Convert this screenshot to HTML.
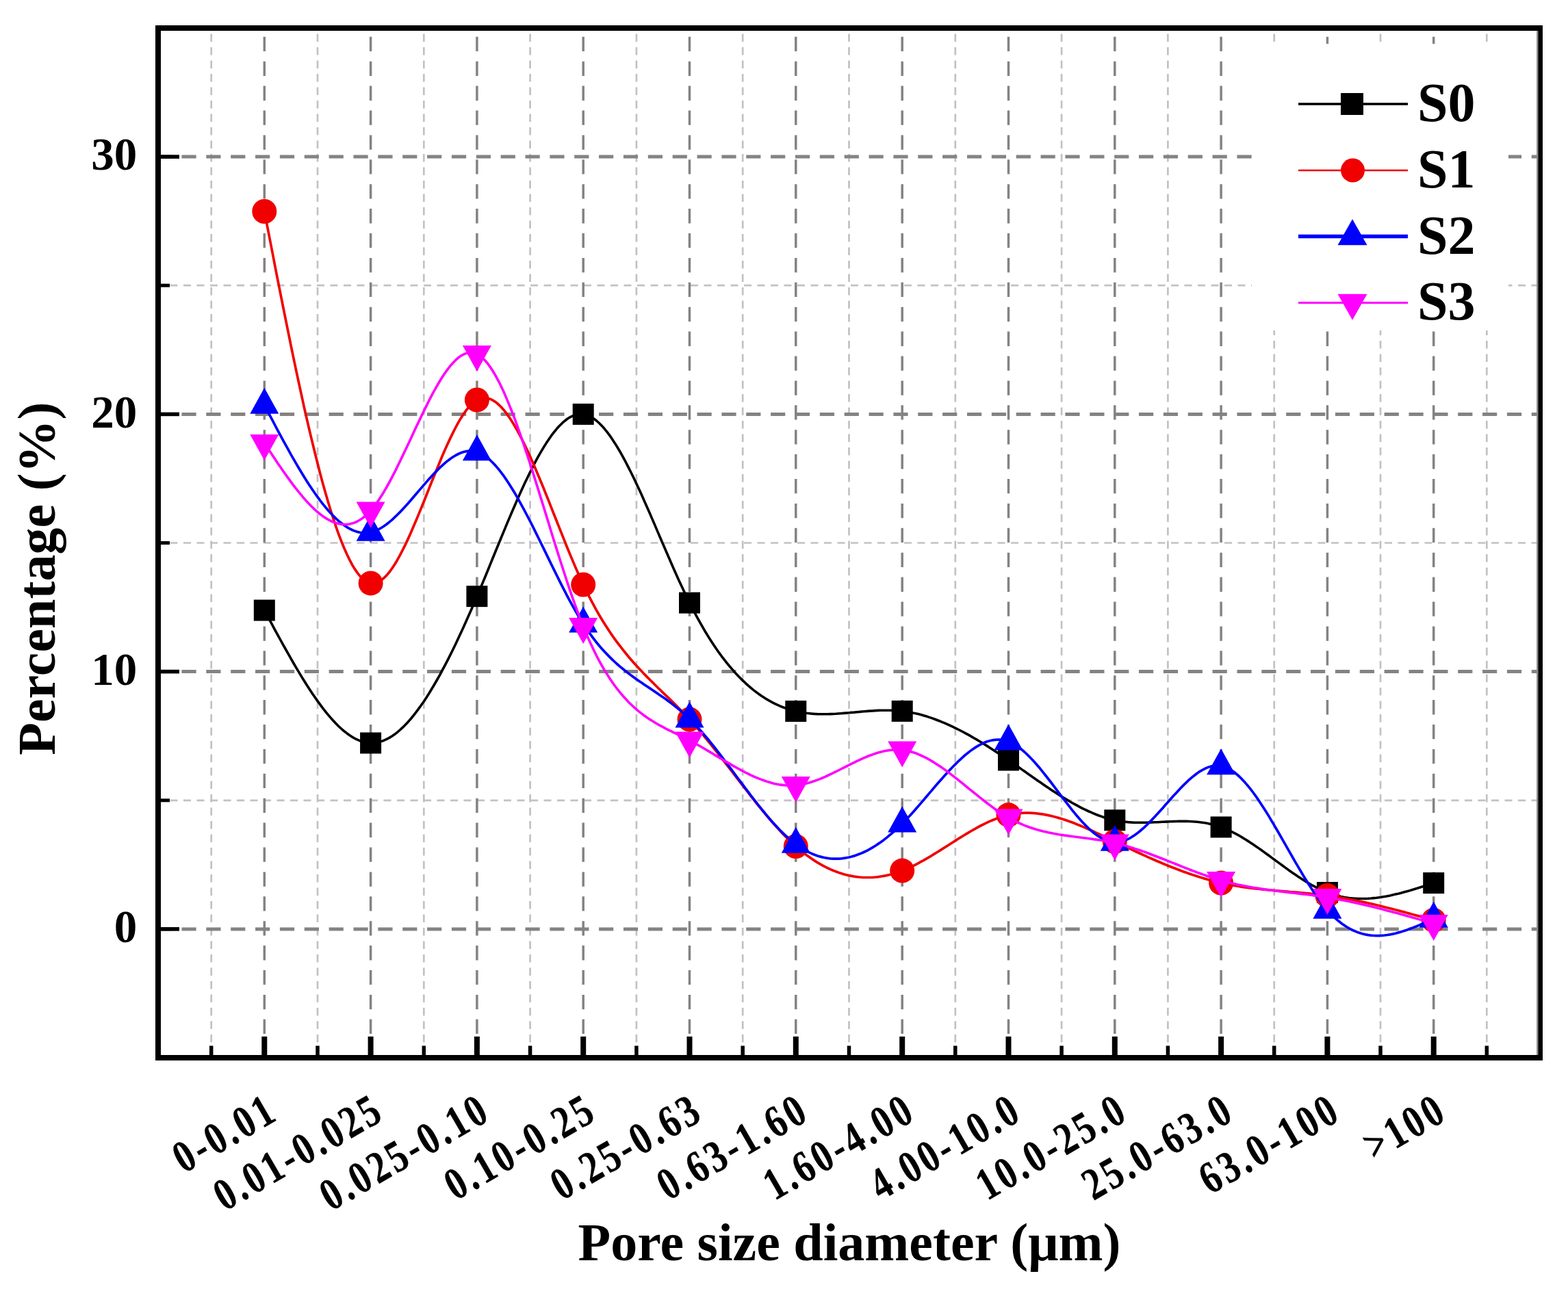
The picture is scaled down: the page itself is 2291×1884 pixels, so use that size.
<!DOCTYPE html>
<html><head><meta charset="utf-8"><title>Pore size distribution</title>
<style>
html,body{margin:0;padding:0;background:#fff;}
body{width:2291px;height:1884px;overflow:hidden;}
svg{display:block;}
text{font-family:"Liberation Serif","Times New Roman",serif;font-weight:bold;fill:#000;}
</style></head><body>
<svg width="2291" height="1884" viewBox="0 0 2291 1884">
<rect width="2291" height="1884" fill="#fff"/>
<defs><clipPath id="pa"><rect x="235.0" y="45.0" width="2011.0" height="1497.0"/></clipPath></defs>
<g clip-path="url(#pa)">
<line x1="308.7" y1="30" x2="308.7" y2="1560" stroke="#c4c0c4" stroke-width="2.7" stroke-dasharray="11.5 8"/>
<line x1="464.0" y1="30" x2="464.0" y2="1560" stroke="#c4c0c4" stroke-width="2.7" stroke-dasharray="11.5 8"/>
<line x1="619.3" y1="30" x2="619.3" y2="1560" stroke="#c4c0c4" stroke-width="2.7" stroke-dasharray="11.5 8"/>
<line x1="774.6" y1="30" x2="774.6" y2="1560" stroke="#c4c0c4" stroke-width="2.7" stroke-dasharray="11.5 8"/>
<line x1="929.9" y1="30" x2="929.9" y2="1560" stroke="#c4c0c4" stroke-width="2.7" stroke-dasharray="11.5 8"/>
<line x1="1085.2" y1="30" x2="1085.2" y2="1560" stroke="#c4c0c4" stroke-width="2.7" stroke-dasharray="11.5 8"/>
<line x1="1240.5" y1="30" x2="1240.5" y2="1560" stroke="#c4c0c4" stroke-width="2.7" stroke-dasharray="11.5 8"/>
<line x1="1395.8" y1="30" x2="1395.8" y2="1560" stroke="#c4c0c4" stroke-width="2.7" stroke-dasharray="11.5 8"/>
<line x1="1551.1" y1="30" x2="1551.1" y2="1560" stroke="#c4c0c4" stroke-width="2.7" stroke-dasharray="11.5 8"/>
<line x1="1706.4" y1="30" x2="1706.4" y2="1560" stroke="#c4c0c4" stroke-width="2.7" stroke-dasharray="11.5 8"/>
<line x1="1861.7" y1="30" x2="1861.7" y2="1560" stroke="#c4c0c4" stroke-width="2.7" stroke-dasharray="11.5 8"/>
<line x1="2017.0" y1="30" x2="2017.0" y2="1560" stroke="#c4c0c4" stroke-width="2.7" stroke-dasharray="11.5 8"/>
<line x1="2172.3" y1="30" x2="2172.3" y2="1560" stroke="#c4c0c4" stroke-width="2.7" stroke-dasharray="11.5 8"/>
<line x1="229.0" y1="1169.8" x2="2250.0" y2="1169.8" stroke="#c4c0c4" stroke-width="2.7" stroke-dasharray="11 8.5"/>
<line x1="229.0" y1="793.5" x2="2250.0" y2="793.5" stroke="#c4c0c4" stroke-width="2.7" stroke-dasharray="11 8.5"/>
<line x1="229.0" y1="417.2" x2="2250.0" y2="417.2" stroke="#c4c0c4" stroke-width="2.7" stroke-dasharray="11 8.5"/>
<line x1="386.3" y1="17.9" x2="386.3" y2="1560" stroke="#858282" stroke-width="3.5" stroke-dasharray="21.3 14.6"/>
<line x1="541.6" y1="17.9" x2="541.6" y2="1560" stroke="#858282" stroke-width="3.5" stroke-dasharray="21.3 14.6"/>
<line x1="696.9" y1="17.9" x2="696.9" y2="1560" stroke="#858282" stroke-width="3.5" stroke-dasharray="21.3 14.6"/>
<line x1="852.2" y1="17.9" x2="852.2" y2="1560" stroke="#858282" stroke-width="3.5" stroke-dasharray="21.3 14.6"/>
<line x1="1007.5" y1="17.9" x2="1007.5" y2="1560" stroke="#858282" stroke-width="3.5" stroke-dasharray="21.3 14.6"/>
<line x1="1162.8" y1="17.9" x2="1162.8" y2="1560" stroke="#858282" stroke-width="3.5" stroke-dasharray="21.3 14.6"/>
<line x1="1318.2" y1="17.9" x2="1318.2" y2="1560" stroke="#858282" stroke-width="3.5" stroke-dasharray="21.3 14.6"/>
<line x1="1473.5" y1="17.9" x2="1473.5" y2="1560" stroke="#858282" stroke-width="3.5" stroke-dasharray="21.3 14.6"/>
<line x1="1628.8" y1="17.9" x2="1628.8" y2="1560" stroke="#858282" stroke-width="3.5" stroke-dasharray="21.3 14.6"/>
<line x1="1784.1" y1="17.9" x2="1784.1" y2="1560" stroke="#858282" stroke-width="3.5" stroke-dasharray="21.3 14.6"/>
<line x1="1939.4" y1="17.9" x2="1939.4" y2="1560" stroke="#858282" stroke-width="3.5" stroke-dasharray="21.3 14.6"/>
<line x1="2094.7" y1="17.9" x2="2094.7" y2="1560" stroke="#858282" stroke-width="3.5" stroke-dasharray="21.3 14.6"/>
<line x1="229.6" y1="1357.9" x2="2250.0" y2="1357.9" stroke="#858282" stroke-width="5" stroke-dasharray="21.2 14.66"/>
<line x1="229.6" y1="981.6" x2="2250.0" y2="981.6" stroke="#858282" stroke-width="5" stroke-dasharray="21.2 14.66"/>
<line x1="229.6" y1="605.4" x2="2250.0" y2="605.4" stroke="#858282" stroke-width="5" stroke-dasharray="21.2 14.66"/>
<line x1="229.6" y1="229.1" x2="2250.0" y2="229.1" stroke="#858282" stroke-width="5" stroke-dasharray="21.2 14.66"/>
</g>
<rect x="1829" y="64" width="375" height="419" fill="#fff"/>
<path d="M386.3,892.0 L390.2,899.2 L394.1,906.4 L398.0,913.6 L401.8,920.8 L405.7,927.9 L409.6,935.0 L413.5,942.1 L417.4,949.0 L421.3,955.9 L425.1,962.7 L429.0,969.5 L432.9,976.1 L436.8,982.6 L440.7,989.1 L444.5,995.3 L448.4,1001.5 L452.3,1007.5 L456.2,1013.4 L460.1,1019.1 L464.0,1024.6 L467.8,1029.9 L471.7,1035.1 L475.6,1040.1 L479.5,1044.9 L483.4,1049.4 L487.3,1053.7 L491.1,1057.8 L495.0,1061.7 L498.9,1065.3 L502.8,1068.6 L506.7,1071.7 L510.6,1074.5 L514.4,1077.1 L518.3,1079.3 L522.2,1081.2 L526.1,1082.8 L530.0,1084.1 L533.9,1085.1 L537.7,1085.7 L541.6,1086.0 L545.5,1085.9 L549.4,1085.5 L553.3,1084.7 L557.1,1083.6 L561.0,1082.2 L564.9,1080.4 L568.8,1078.4 L572.7,1076.0 L576.6,1073.3 L580.4,1070.3 L584.3,1067.0 L588.2,1063.4 L592.1,1059.5 L596.0,1055.4 L599.9,1051.0 L603.7,1046.3 L607.6,1041.4 L611.5,1036.2 L615.4,1030.8 L619.3,1025.2 L623.2,1019.3 L627.0,1013.2 L630.9,1006.8 L634.8,1000.3 L638.7,993.5 L642.6,986.6 L646.4,979.4 L650.3,972.1 L654.2,964.6 L658.1,956.9 L662.0,949.0 L665.9,941.0 L669.7,932.8 L673.6,924.4 L677.5,916.0 L681.4,907.3 L685.3,898.6 L689.2,889.7 L693.0,880.7 L696.9,871.6 L700.8,862.4 L704.7,853.1 L708.6,843.7 L712.5,834.3 L716.3,824.8 L720.2,815.3 L724.1,805.8 L728.0,796.3 L731.9,786.8 L735.8,777.4 L739.6,768.1 L743.5,758.9 L747.4,749.7 L751.3,740.7 L755.2,731.8 L759.0,723.1 L762.9,714.5 L766.8,706.1 L770.7,698.0 L774.6,690.0 L778.5,682.3 L782.3,674.9 L786.2,667.7 L790.1,660.9 L794.0,654.3 L797.9,648.1 L801.8,642.2 L805.6,636.7 L809.5,631.6 L813.4,626.8 L817.3,622.5 L821.2,618.7 L825.1,615.2 L828.9,612.3 L832.8,609.8 L836.7,607.9 L840.6,606.4 L844.5,605.5 L848.3,605.2 L852.2,605.4 L856.1,606.2 L860.0,607.6 L863.9,609.5 L867.8,612.0 L871.6,615.0 L875.5,618.5 L879.4,622.4 L883.3,626.8 L887.2,631.6 L891.1,636.8 L894.9,642.5 L898.8,648.4 L902.7,654.8 L906.6,661.4 L910.5,668.4 L914.4,675.6 L918.2,683.1 L922.1,690.8 L926.0,698.8 L929.9,707.0 L933.8,715.3 L937.7,723.8 L941.5,732.5 L945.4,741.3 L949.3,750.1 L953.2,759.1 L957.1,768.1 L960.9,777.1 L964.8,786.2 L968.7,795.2 L972.6,804.3 L976.5,813.3 L980.4,822.2 L984.2,831.0 L988.1,839.8 L992.0,848.4 L995.9,856.8 L999.8,865.1 L1003.7,873.2 L1007.5,881.1 L1011.4,888.8 L1015.3,896.2 L1019.2,903.4 L1023.1,910.4 L1027.0,917.2 L1030.8,923.8 L1034.7,930.1 L1038.6,936.2 L1042.5,942.2 L1046.4,947.9 L1050.2,953.4 L1054.1,958.8 L1058.0,963.9 L1061.9,968.8 L1065.8,973.6 L1069.7,978.2 L1073.5,982.6 L1077.4,986.8 L1081.3,990.8 L1085.2,994.6 L1089.1,998.3 L1093.0,1001.8 L1096.8,1005.2 L1100.7,1008.4 L1104.6,1011.4 L1108.5,1014.3 L1112.4,1017.0 L1116.3,1019.5 L1120.1,1021.9 L1124.0,1024.2 L1127.9,1026.3 L1131.8,1028.3 L1135.7,1030.2 L1139.5,1031.9 L1143.4,1033.5 L1147.3,1034.9 L1151.2,1036.2 L1155.1,1037.4 L1159.0,1038.5 L1162.8,1039.5 L1166.7,1040.4 L1170.6,1041.1 L1174.5,1041.7 L1178.4,1042.3 L1182.3,1042.7 L1186.1,1043.1 L1190.0,1043.4 L1193.9,1043.6 L1197.8,1043.7 L1201.7,1043.8 L1205.6,1043.8 L1209.4,1043.7 L1213.3,1043.6 L1217.2,1043.5 L1221.1,1043.3 L1225.0,1043.0 L1228.9,1042.7 L1232.7,1042.4 L1236.6,1042.1 L1240.5,1041.8 L1244.4,1041.4 L1248.3,1041.1 L1252.1,1040.7 L1256.0,1040.4 L1259.9,1040.0 L1263.8,1039.7 L1267.7,1039.4 L1271.6,1039.1 L1275.4,1038.9 L1279.3,1038.6 L1283.2,1038.4 L1287.1,1038.3 L1291.0,1038.2 L1294.9,1038.2 L1298.7,1038.2 L1302.6,1038.3 L1306.5,1038.5 L1310.4,1038.7 L1314.3,1039.0 L1318.2,1039.4 L1322.0,1039.9 L1325.9,1040.5 L1329.8,1041.1 L1333.7,1041.9 L1337.6,1042.7 L1341.5,1043.6 L1345.3,1044.6 L1349.2,1045.7 L1353.1,1046.8 L1357.0,1048.1 L1360.9,1049.4 L1364.7,1050.7 L1368.6,1052.2 L1372.5,1053.7 L1376.4,1055.3 L1380.3,1056.9 L1384.2,1058.6 L1388.0,1060.4 L1391.9,1062.2 L1395.8,1064.1 L1399.7,1066.0 L1403.6,1068.0 L1407.5,1070.0 L1411.3,1072.1 L1415.2,1074.2 L1419.1,1076.4 L1423.0,1078.7 L1426.9,1080.9 L1430.8,1083.2 L1434.6,1085.6 L1438.5,1088.0 L1442.4,1090.4 L1446.3,1092.9 L1450.2,1095.4 L1454.0,1097.9 L1457.9,1100.5 L1461.8,1103.1 L1465.7,1105.7 L1469.6,1108.3 L1473.5,1111.0 L1477.3,1113.7 L1481.2,1116.4 L1485.1,1119.1 L1489.0,1121.8 L1492.9,1124.6 L1496.8,1127.3 L1500.6,1130.0 L1504.5,1132.8 L1508.4,1135.5 L1512.3,1138.2 L1516.2,1140.9 L1520.1,1143.6 L1523.9,1146.3 L1527.8,1149.0 L1531.7,1151.6 L1535.6,1154.2 L1539.5,1156.7 L1543.4,1159.3 L1547.2,1161.7 L1551.1,1164.2 L1555.0,1166.6 L1558.9,1168.9 L1562.8,1171.2 L1566.6,1173.5 L1570.5,1175.6 L1574.4,1177.7 L1578.3,1179.8 L1582.2,1181.8 L1586.1,1183.7 L1589.9,1185.5 L1593.8,1187.2 L1597.7,1188.9 L1601.6,1190.5 L1605.5,1192.0 L1609.4,1193.4 L1613.2,1194.7 L1617.1,1195.9 L1621.0,1196.9 L1624.9,1197.9 L1628.8,1198.8 L1632.7,1199.6 L1636.5,1200.2 L1640.4,1200.8 L1644.3,1201.2 L1648.2,1201.6 L1652.1,1201.9 L1655.9,1202.1 L1659.8,1202.2 L1663.7,1202.3 L1667.6,1202.3 L1671.5,1202.3 L1675.4,1202.2 L1679.2,1202.1 L1683.1,1202.0 L1687.0,1201.8 L1690.9,1201.7 L1694.8,1201.5 L1698.7,1201.3 L1702.5,1201.1 L1706.4,1200.9 L1710.3,1200.7 L1714.2,1200.6 L1718.1,1200.5 L1722.0,1200.4 L1725.8,1200.4 L1729.7,1200.4 L1733.6,1200.4 L1737.5,1200.5 L1741.4,1200.7 L1745.3,1201.0 L1749.1,1201.3 L1753.0,1201.7 L1756.9,1202.2 L1760.8,1202.8 L1764.7,1203.5 L1768.5,1204.4 L1772.4,1205.3 L1776.3,1206.4 L1780.2,1207.6 L1784.1,1208.9 L1788.0,1210.4 L1791.8,1212.0 L1795.7,1213.7 L1799.6,1215.6 L1803.5,1217.6 L1807.4,1219.6 L1811.3,1221.8 L1815.1,1224.1 L1819.0,1226.5 L1822.9,1228.9 L1826.8,1231.4 L1830.7,1234.0 L1834.6,1236.7 L1838.4,1239.4 L1842.3,1242.1 L1846.2,1244.9 L1850.1,1247.7 L1854.0,1250.5 L1857.8,1253.4 L1861.7,1256.2 L1865.6,1259.1 L1869.5,1261.9 L1873.4,1264.8 L1877.3,1267.6 L1881.1,1270.4 L1885.0,1273.2 L1888.9,1275.9 L1892.8,1278.6 L1896.7,1281.2 L1900.6,1283.8 L1904.4,1286.3 L1908.3,1288.7 L1912.2,1291.0 L1916.1,1293.3 L1920.0,1295.4 L1923.9,1297.5 L1927.7,1299.4 L1931.6,1301.2 L1935.5,1302.9 L1939.4,1304.5 L1943.4,1306.0 L1947.3,1307.3 L1951.3,1308.5 L1955.3,1309.5 L1959.3,1310.4 L1963.3,1311.2 L1967.3,1311.9 L1971.2,1312.5 L1975.2,1312.9 L1979.2,1313.2 L1983.2,1313.4 L1987.2,1313.5 L1991.2,1313.5 L1995.1,1313.5 L1999.1,1313.3 L2003.1,1313.0 L2007.1,1312.6 L2011.1,1312.2 L2015.0,1311.7 L2019.0,1311.1 L2023.0,1310.4 L2027.0,1309.7 L2031.0,1308.9 L2035.0,1308.0 L2038.9,1307.1 L2042.9,1306.2 L2046.9,1305.2 L2050.9,1304.1 L2054.9,1303.0 L2058.9,1301.9 L2062.8,1300.7 L2066.8,1299.5 L2070.8,1298.3 L2074.8,1297.0 L2078.8,1295.8 L2082.7,1294.5 L2086.7,1293.2 L2090.7,1291.9 L2094.7,1290.6" fill="none" stroke="#000000" stroke-width="3.6" stroke-linejoin="round"/>
<rect x="370.8" y="876.5" width="31" height="31" fill="#000000"/>
<rect x="526.1" y="1070.5" width="31" height="31" fill="#000000"/>
<rect x="681.4" y="856.1" width="31" height="31" fill="#000000"/>
<rect x="836.7" y="589.9" width="31" height="31" fill="#000000"/>
<rect x="992.0" y="865.6" width="31" height="31" fill="#000000"/>
<rect x="1147.3" y="1024.0" width="31" height="31" fill="#000000"/>
<rect x="1302.7" y="1023.9" width="31" height="31" fill="#000000"/>
<rect x="1458.0" y="1095.5" width="31" height="31" fill="#000000"/>
<rect x="1613.3" y="1183.3" width="31" height="31" fill="#000000"/>
<rect x="1768.6" y="1193.4" width="31" height="31" fill="#000000"/>
<rect x="1923.9" y="1289.0" width="31" height="31" fill="#000000"/>
<rect x="2079.2" y="1275.1" width="31" height="31" fill="#000000"/>
<path d="M386.3,309.0 L390.2,329.0 L394.1,349.0 L398.0,369.0 L401.8,388.8 L405.7,408.6 L409.6,428.3 L413.5,447.8 L417.4,467.1 L421.3,486.3 L425.1,505.2 L429.0,523.9 L432.9,542.3 L436.8,560.5 L440.7,578.3 L444.5,595.8 L448.4,612.9 L452.3,629.6 L456.2,645.9 L460.1,661.8 L464.0,677.3 L467.8,692.2 L471.7,706.7 L475.6,720.6 L479.5,733.9 L483.4,746.7 L487.3,758.9 L491.1,770.4 L495.0,781.3 L498.9,791.5 L502.8,801.0 L506.7,809.8 L510.6,817.9 L514.4,825.2 L518.3,831.6 L522.2,837.3 L526.1,842.1 L530.0,846.0 L533.9,849.1 L537.7,851.2 L541.6,852.4 L545.5,852.6 L549.4,851.9 L553.3,850.4 L557.1,848.0 L561.0,844.8 L564.9,840.9 L568.8,836.3 L572.7,831.0 L576.6,825.1 L580.4,818.7 L584.3,811.7 L588.2,804.2 L592.1,796.4 L596.0,788.1 L599.9,779.5 L603.7,770.6 L607.6,761.5 L611.5,752.1 L615.4,742.6 L619.3,733.0 L623.2,723.3 L627.0,713.6 L630.9,703.8 L634.8,694.2 L638.7,684.6 L642.6,675.2 L646.4,666.0 L650.3,657.1 L654.2,648.4 L658.1,640.1 L662.0,632.1 L665.9,624.5 L669.7,617.4 L673.6,610.9 L677.5,604.8 L681.4,599.4 L685.3,594.6 L689.2,590.5 L693.0,587.1 L696.9,584.5 L700.8,582.7 L704.7,581.7 L708.6,581.5 L712.5,582.0 L716.3,583.2 L720.2,585.1 L724.1,587.6 L728.0,590.8 L731.9,594.5 L735.8,598.9 L739.6,603.7 L743.5,609.1 L747.4,615.0 L751.3,621.3 L755.2,628.1 L759.0,635.2 L762.9,642.7 L766.8,650.6 L770.7,658.8 L774.6,667.3 L778.5,676.0 L782.3,685.0 L786.2,694.2 L790.1,703.5 L794.0,713.0 L797.9,722.7 L801.8,732.4 L805.6,742.2 L809.5,752.0 L813.4,761.8 L817.3,771.6 L821.2,781.4 L825.1,791.1 L828.9,800.7 L832.8,810.1 L836.7,819.4 L840.6,828.6 L844.5,837.5 L848.3,846.1 L852.2,854.5 L856.1,862.6 L860.0,870.4 L863.9,877.9 L867.8,885.2 L871.6,892.2 L875.5,899.0 L879.4,905.5 L883.3,911.8 L887.2,917.8 L891.1,923.7 L894.9,929.4 L898.8,934.8 L902.7,940.1 L906.6,945.2 L910.5,950.2 L914.4,955.0 L918.2,959.7 L922.1,964.3 L926.0,968.7 L929.9,973.0 L933.8,977.2 L937.7,981.3 L941.5,985.4 L945.4,989.4 L949.3,993.3 L953.2,997.1 L957.1,1001.0 L960.9,1004.8 L964.8,1008.5 L968.7,1012.3 L972.6,1016.1 L976.5,1019.8 L980.4,1023.6 L984.2,1027.4 L988.1,1031.3 L992.0,1035.2 L995.9,1039.2 L999.8,1043.2 L1003.7,1047.3 L1007.5,1051.5 L1011.4,1055.8 L1015.3,1060.2 L1019.2,1064.7 L1023.1,1069.2 L1027.0,1073.8 L1030.8,1078.5 L1034.7,1083.3 L1038.6,1088.1 L1042.5,1093.0 L1046.4,1097.9 L1050.2,1102.8 L1054.1,1107.8 L1058.0,1112.8 L1061.9,1117.9 L1065.8,1122.9 L1069.7,1128.0 L1073.5,1133.0 L1077.4,1138.1 L1081.3,1143.1 L1085.2,1148.2 L1089.1,1153.2 L1093.0,1158.2 L1096.8,1163.2 L1100.7,1168.1 L1104.6,1173.0 L1108.5,1177.8 L1112.4,1182.6 L1116.3,1187.3 L1120.1,1191.9 L1124.0,1196.5 L1127.9,1201.0 L1131.8,1205.4 L1135.7,1209.8 L1139.5,1214.0 L1143.4,1218.1 L1147.3,1222.1 L1151.2,1226.0 L1155.1,1229.8 L1159.0,1233.5 L1162.8,1237.0 L1166.7,1240.4 L1170.6,1243.6 L1174.5,1246.8 L1178.4,1249.7 L1182.3,1252.6 L1186.1,1255.3 L1190.0,1257.9 L1193.9,1260.3 L1197.8,1262.7 L1201.7,1264.8 L1205.6,1266.9 L1209.4,1268.8 L1213.3,1270.6 L1217.2,1272.3 L1221.1,1273.8 L1225.0,1275.2 L1228.9,1276.5 L1232.7,1277.7 L1236.6,1278.7 L1240.5,1279.6 L1244.4,1280.4 L1248.3,1281.1 L1252.1,1281.6 L1256.0,1282.0 L1259.9,1282.3 L1263.8,1282.5 L1267.7,1282.5 L1271.6,1282.5 L1275.4,1282.3 L1279.3,1282.0 L1283.2,1281.6 L1287.1,1281.0 L1291.0,1280.4 L1294.9,1279.6 L1298.7,1278.7 L1302.6,1277.7 L1306.5,1276.6 L1310.4,1275.4 L1314.3,1274.0 L1318.2,1272.6 L1322.0,1271.0 L1325.9,1269.4 L1329.8,1267.6 L1333.7,1265.8 L1337.6,1263.8 L1341.5,1261.8 L1345.3,1259.7 L1349.2,1257.6 L1353.1,1255.3 L1357.0,1253.1 L1360.9,1250.8 L1364.7,1248.4 L1368.6,1246.0 L1372.5,1243.6 L1376.4,1241.1 L1380.3,1238.7 L1384.2,1236.2 L1388.0,1233.7 L1391.9,1231.2 L1395.8,1228.8 L1399.7,1226.3 L1403.6,1223.9 L1407.5,1221.5 L1411.3,1219.1 L1415.2,1216.8 L1419.1,1214.5 L1423.0,1212.3 L1426.9,1210.1 L1430.8,1208.0 L1434.6,1206.0 L1438.5,1204.1 L1442.4,1202.2 L1446.3,1200.4 L1450.2,1198.8 L1454.0,1197.2 L1457.9,1195.7 L1461.8,1194.4 L1465.7,1193.2 L1469.6,1192.1 L1473.5,1191.1 L1477.3,1190.3 L1481.2,1189.6 L1485.1,1189.1 L1489.0,1188.6 L1492.9,1188.3 L1496.8,1188.2 L1500.6,1188.1 L1504.5,1188.2 L1508.4,1188.4 L1512.3,1188.7 L1516.2,1189.1 L1520.1,1189.6 L1523.9,1190.2 L1527.8,1190.9 L1531.7,1191.6 L1535.6,1192.5 L1539.5,1193.5 L1543.4,1194.5 L1547.2,1195.6 L1551.1,1196.8 L1555.0,1198.0 L1558.9,1199.3 L1562.8,1200.7 L1566.6,1202.1 L1570.5,1203.6 L1574.4,1205.2 L1578.3,1206.8 L1582.2,1208.4 L1586.1,1210.1 L1589.9,1211.8 L1593.8,1213.5 L1597.7,1215.3 L1601.6,1217.1 L1605.5,1218.9 L1609.4,1220.7 L1613.2,1222.5 L1617.1,1224.4 L1621.0,1226.3 L1624.9,1228.1 L1628.8,1230.0 L1632.7,1231.9 L1636.5,1233.7 L1640.4,1235.6 L1644.3,1237.4 L1648.2,1239.3 L1652.1,1241.1 L1655.9,1242.9 L1659.8,1244.7 L1663.7,1246.5 L1667.6,1248.3 L1671.5,1250.1 L1675.4,1251.8 L1679.2,1253.6 L1683.1,1255.3 L1687.0,1257.0 L1690.9,1258.7 L1694.8,1260.3 L1698.7,1262.0 L1702.5,1263.6 L1706.4,1265.2 L1710.3,1266.7 L1714.2,1268.3 L1718.1,1269.8 L1722.0,1271.3 L1725.8,1272.7 L1729.7,1274.2 L1733.6,1275.6 L1737.5,1276.9 L1741.4,1278.3 L1745.3,1279.6 L1749.1,1280.8 L1753.0,1282.1 L1756.9,1283.3 L1760.8,1284.4 L1764.7,1285.5 L1768.5,1286.6 L1772.4,1287.7 L1776.3,1288.6 L1780.2,1289.6 L1784.1,1290.5 L1788.0,1291.4 L1791.8,1292.2 L1795.7,1293.0 L1799.6,1293.7 L1803.5,1294.4 L1807.4,1295.0 L1811.3,1295.7 L1815.1,1296.3 L1819.0,1296.8 L1822.9,1297.4 L1826.8,1297.9 L1830.7,1298.3 L1834.6,1298.8 L1838.4,1299.2 L1842.3,1299.7 L1846.2,1300.1 L1850.1,1300.4 L1854.0,1300.8 L1857.8,1301.2 L1861.7,1301.5 L1865.6,1301.8 L1869.5,1302.2 L1873.4,1302.5 L1877.3,1302.8 L1881.1,1303.1 L1885.0,1303.5 L1888.9,1303.8 L1892.8,1304.1 L1896.7,1304.4 L1900.6,1304.8 L1904.4,1305.1 L1908.3,1305.5 L1912.2,1305.9 L1916.1,1306.3 L1920.0,1306.7 L1923.9,1307.1 L1927.7,1307.5 L1931.6,1308.0 L1935.5,1308.5 L1939.4,1309.0 L1943.4,1309.6 L1947.3,1310.1 L1951.3,1310.8 L1955.3,1311.4 L1959.3,1312.1 L1963.3,1312.8 L1967.3,1313.5 L1971.2,1314.2 L1975.2,1315.0 L1979.2,1315.8 L1983.2,1316.6 L1987.2,1317.4 L1991.2,1318.3 L1995.1,1319.1 L1999.1,1320.0 L2003.1,1320.9 L2007.1,1321.8 L2011.1,1322.8 L2015.0,1323.7 L2019.0,1324.7 L2023.0,1325.7 L2027.0,1326.7 L2031.0,1327.7 L2035.0,1328.7 L2038.9,1329.8 L2042.9,1330.8 L2046.9,1331.9 L2050.9,1332.9 L2054.9,1334.0 L2058.9,1335.1 L2062.8,1336.2 L2066.8,1337.3 L2070.8,1338.4 L2074.8,1339.5 L2078.8,1340.6 L2082.7,1341.7 L2086.7,1342.8 L2090.7,1343.9 L2094.7,1345.0" fill="none" stroke="#f00000" stroke-width="3.7" stroke-linejoin="round"/>
<circle cx="386.3" cy="309.0" r="18" fill="#f00000"/>
<circle cx="541.6" cy="852.4" r="18" fill="#f00000"/>
<circle cx="696.9" cy="584.5" r="18" fill="#f00000"/>
<circle cx="852.2" cy="854.5" r="18" fill="#f00000"/>
<circle cx="1007.5" cy="1051.5" r="18" fill="#f00000"/>
<circle cx="1162.8" cy="1237.0" r="18" fill="#f00000"/>
<circle cx="1318.2" cy="1272.6" r="18" fill="#f00000"/>
<circle cx="1473.5" cy="1191.1" r="18" fill="#f00000"/>
<circle cx="1628.8" cy="1230.0" r="18" fill="#f00000"/>
<circle cx="1784.1" cy="1290.5" r="18" fill="#f00000"/>
<circle cx="1939.4" cy="1309.0" r="18" fill="#f00000"/>
<circle cx="2094.7" cy="1345.0" r="18" fill="#f00000"/>
<path d="M386.3,592.0 L390.2,599.4 L394.1,606.8 L398.0,614.2 L401.8,621.5 L405.7,628.8 L409.6,636.1 L413.5,643.3 L417.4,650.4 L421.3,657.4 L425.1,664.4 L429.0,671.2 L432.9,677.9 L436.8,684.5 L440.7,691.0 L444.5,697.3 L448.4,703.5 L452.3,709.5 L456.2,715.3 L460.1,721.0 L464.0,726.4 L467.8,731.6 L471.7,736.6 L475.6,741.4 L479.5,746.0 L483.4,750.3 L487.3,754.3 L491.1,758.1 L495.0,761.6 L498.9,764.8 L502.8,767.7 L506.7,770.3 L510.6,772.6 L514.4,774.5 L518.3,776.1 L522.2,777.4 L526.1,778.3 L530.0,778.8 L533.9,778.9 L537.7,778.7 L541.6,778.0 L545.5,776.9 L549.4,775.5 L553.3,773.6 L557.1,771.5 L561.0,769.0 L564.9,766.2 L568.8,763.1 L572.7,759.8 L576.6,756.2 L580.4,752.5 L584.3,748.6 L588.2,744.5 L592.1,740.3 L596.0,735.9 L599.9,731.5 L603.7,727.0 L607.6,722.5 L611.5,717.9 L615.4,713.4 L619.3,708.9 L623.2,704.4 L627.0,700.1 L630.9,695.8 L634.8,691.6 L638.7,687.6 L642.6,683.7 L646.4,680.1 L650.3,676.6 L654.2,673.4 L658.1,670.5 L662.0,667.8 L665.9,665.5 L669.7,663.5 L673.6,661.8 L677.5,660.5 L681.4,659.6 L685.3,659.2 L689.2,659.2 L693.0,659.6 L696.9,660.6 L700.8,662.1 L704.7,664.0 L708.6,666.5 L712.5,669.4 L716.3,672.7 L720.2,676.5 L724.1,680.6 L728.0,685.2 L731.9,690.1 L735.8,695.3 L739.6,700.9 L743.5,706.7 L747.4,712.9 L751.3,719.3 L755.2,725.9 L759.0,732.8 L762.9,739.8 L766.8,747.1 L770.7,754.5 L774.6,762.0 L778.5,769.7 L782.3,777.4 L786.2,785.3 L790.1,793.2 L794.0,801.1 L797.9,809.1 L801.8,817.1 L805.6,825.0 L809.5,832.9 L813.4,840.8 L817.3,848.6 L821.2,856.3 L825.1,863.8 L828.9,871.3 L832.8,878.6 L836.7,885.7 L840.6,892.6 L844.5,899.2 L848.3,905.7 L852.2,911.9 L856.1,917.8 L860.0,923.5 L863.9,928.9 L867.8,934.1 L871.6,939.0 L875.5,943.7 L879.4,948.2 L883.3,952.5 L887.2,956.6 L891.1,960.6 L894.9,964.4 L898.8,968.0 L902.7,971.5 L906.6,974.8 L910.5,978.0 L914.4,981.1 L918.2,984.1 L922.1,987.1 L926.0,989.9 L929.9,992.7 L933.8,995.4 L937.7,998.1 L941.5,1000.7 L945.4,1003.3 L949.3,1005.9 L953.2,1008.5 L957.1,1011.1 L960.9,1013.7 L964.8,1016.4 L968.7,1019.1 L972.6,1021.8 L976.5,1024.7 L980.4,1027.6 L984.2,1030.5 L988.1,1033.6 L992.0,1036.8 L995.9,1040.1 L999.8,1043.5 L1003.7,1047.1 L1007.5,1050.8 L1011.4,1054.7 L1015.3,1058.7 L1019.2,1062.9 L1023.1,1067.2 L1027.0,1071.6 L1030.8,1076.2 L1034.7,1080.8 L1038.6,1085.6 L1042.5,1090.4 L1046.4,1095.4 L1050.2,1100.4 L1054.1,1105.4 L1058.0,1110.5 L1061.9,1115.7 L1065.8,1120.8 L1069.7,1126.0 L1073.5,1131.3 L1077.4,1136.5 L1081.3,1141.7 L1085.2,1146.9 L1089.1,1152.1 L1093.0,1157.2 L1096.8,1162.4 L1100.7,1167.4 L1104.6,1172.4 L1108.5,1177.3 L1112.4,1182.2 L1116.3,1187.0 L1120.1,1191.6 L1124.0,1196.2 L1127.9,1200.7 L1131.8,1205.0 L1135.7,1209.2 L1139.5,1213.2 L1143.4,1217.1 L1147.3,1220.9 L1151.2,1224.4 L1155.1,1227.8 L1159.0,1231.0 L1162.8,1234.0 L1166.7,1236.8 L1170.6,1239.4 L1174.5,1241.8 L1178.4,1243.9 L1182.3,1245.9 L1186.1,1247.7 L1190.0,1249.3 L1193.9,1250.7 L1197.8,1251.9 L1201.7,1252.9 L1205.6,1253.7 L1209.4,1254.4 L1213.3,1254.8 L1217.2,1255.1 L1221.1,1255.2 L1225.0,1255.1 L1228.9,1254.8 L1232.7,1254.4 L1236.6,1253.7 L1240.5,1253.0 L1244.4,1252.0 L1248.3,1250.9 L1252.1,1249.6 L1256.0,1248.1 L1259.9,1246.5 L1263.8,1244.7 L1267.7,1242.8 L1271.6,1240.7 L1275.4,1238.4 L1279.3,1236.0 L1283.2,1233.4 L1287.1,1230.7 L1291.0,1227.9 L1294.9,1224.9 L1298.7,1221.7 L1302.6,1218.4 L1306.5,1215.0 L1310.4,1211.4 L1314.3,1207.7 L1318.2,1203.9 L1322.0,1199.9 L1325.9,1195.8 L1329.8,1191.7 L1333.7,1187.4 L1337.6,1183.0 L1341.5,1178.6 L1345.3,1174.1 L1349.2,1169.6 L1353.1,1165.0 L1357.0,1160.4 L1360.9,1155.9 L1364.7,1151.3 L1368.6,1146.8 L1372.5,1142.3 L1376.4,1137.9 L1380.3,1133.6 L1384.2,1129.3 L1388.0,1125.1 L1391.9,1121.0 L1395.8,1117.1 L1399.7,1113.2 L1403.6,1109.6 L1407.5,1106.0 L1411.3,1102.7 L1415.2,1099.6 L1419.1,1096.6 L1423.0,1093.9 L1426.9,1091.4 L1430.8,1089.1 L1434.6,1087.1 L1438.5,1085.3 L1442.4,1083.8 L1446.3,1082.7 L1450.2,1081.8 L1454.0,1081.3 L1457.9,1081.0 L1461.8,1081.2 L1465.7,1081.7 L1469.6,1082.5 L1473.5,1083.8 L1477.3,1085.5 L1481.2,1087.5 L1485.1,1089.9 L1489.0,1092.6 L1492.9,1095.6 L1496.8,1099.0 L1500.6,1102.6 L1504.5,1106.4 L1508.4,1110.5 L1512.3,1114.8 L1516.2,1119.2 L1520.1,1123.8 L1523.9,1128.6 L1527.8,1133.5 L1531.7,1138.5 L1535.6,1143.5 L1539.5,1148.6 L1543.4,1153.8 L1547.2,1158.9 L1551.1,1164.1 L1555.0,1169.2 L1558.9,1174.2 L1562.8,1179.2 L1566.6,1184.1 L1570.5,1188.9 L1574.4,1193.5 L1578.3,1197.9 L1582.2,1202.2 L1586.1,1206.3 L1589.9,1210.1 L1593.8,1213.7 L1597.7,1217.0 L1601.6,1220.0 L1605.5,1222.7 L1609.4,1225.1 L1613.2,1227.1 L1617.1,1228.7 L1621.0,1229.9 L1624.9,1230.7 L1628.8,1231.1 L1632.7,1231.0 L1636.5,1230.5 L1640.4,1229.5 L1644.3,1228.1 L1648.2,1226.4 L1652.1,1224.3 L1655.9,1221.9 L1659.8,1219.2 L1663.7,1216.3 L1667.6,1213.0 L1671.5,1209.6 L1675.4,1206.0 L1679.2,1202.1 L1683.1,1198.1 L1687.0,1194.0 L1690.9,1189.8 L1694.8,1185.5 L1698.7,1181.2 L1702.5,1176.8 L1706.4,1172.4 L1710.3,1168.0 L1714.2,1163.6 L1718.1,1159.4 L1722.0,1155.2 L1725.8,1151.1 L1729.7,1147.1 L1733.6,1143.3 L1737.5,1139.7 L1741.4,1136.3 L1745.3,1133.2 L1749.1,1130.3 L1753.0,1127.6 L1756.9,1125.3 L1760.8,1123.3 L1764.7,1121.6 L1768.5,1120.4 L1772.4,1119.5 L1776.3,1119.0 L1780.2,1119.0 L1784.1,1119.5 L1788.0,1120.5 L1791.8,1121.9 L1795.7,1123.8 L1799.6,1126.1 L1803.5,1128.8 L1807.4,1132.0 L1811.3,1135.5 L1815.1,1139.4 L1819.0,1143.6 L1822.9,1148.1 L1826.8,1152.9 L1830.7,1158.0 L1834.6,1163.3 L1838.4,1168.9 L1842.3,1174.7 L1846.2,1180.7 L1850.1,1186.8 L1854.0,1193.1 L1857.8,1199.6 L1861.7,1206.1 L1865.6,1212.8 L1869.5,1219.5 L1873.4,1226.3 L1877.3,1233.1 L1881.1,1239.9 L1885.0,1246.7 L1888.9,1253.5 L1892.8,1260.3 L1896.7,1266.9 L1900.6,1273.5 L1904.4,1280.0 L1908.3,1286.3 L1912.2,1292.5 L1916.1,1298.6 L1920.0,1304.4 L1923.9,1310.0 L1927.7,1315.5 L1931.6,1320.6 L1935.5,1325.5 L1939.4,1330.1 L1943.4,1334.5 L1947.3,1338.6 L1951.3,1342.4 L1955.3,1345.8 L1959.3,1349.0 L1963.3,1351.9 L1967.3,1354.5 L1971.2,1356.9 L1975.2,1359.0 L1979.2,1360.8 L1983.2,1362.4 L1987.2,1363.8 L1991.2,1365.0 L1995.1,1365.9 L1999.1,1366.6 L2003.1,1367.1 L2007.1,1367.5 L2011.1,1367.6 L2015.0,1367.6 L2019.0,1367.4 L2023.0,1367.0 L2027.0,1366.5 L2031.0,1365.9 L2035.0,1365.1 L2038.9,1364.2 L2042.9,1363.1 L2046.9,1362.0 L2050.9,1360.8 L2054.9,1359.5 L2058.9,1358.0 L2062.8,1356.6 L2066.8,1355.0 L2070.8,1353.4 L2074.8,1351.7 L2078.8,1350.0 L2082.7,1348.3 L2086.7,1346.6 L2090.7,1344.8 L2094.7,1343.0" fill="none" stroke="#0000ff" stroke-width="3.7" stroke-linejoin="round"/>
<polygon points="365.3,604.7 407.3,604.7 386.3,566.7" fill="#0000ff"/>
<polygon points="520.6,790.7 562.6,790.7 541.6,752.7" fill="#0000ff"/>
<polygon points="675.9,673.3 717.9,673.3 696.9,635.3" fill="#0000ff"/>
<polygon points="831.2,924.6 873.2,924.6 852.2,886.6" fill="#0000ff"/>
<polygon points="986.5,1063.5 1028.5,1063.5 1007.5,1025.5" fill="#0000ff"/>
<polygon points="1141.8,1246.7 1183.8,1246.7 1162.8,1208.7" fill="#0000ff"/>
<polygon points="1297.2,1216.6 1339.2,1216.6 1318.2,1178.6" fill="#0000ff"/>
<polygon points="1452.5,1096.5 1494.5,1096.5 1473.5,1058.5" fill="#0000ff"/>
<polygon points="1607.8,1243.8 1649.8,1243.8 1628.8,1205.8" fill="#0000ff"/>
<polygon points="1763.1,1132.2 1805.1,1132.2 1784.1,1094.2" fill="#0000ff"/>
<polygon points="1918.4,1342.8 1960.4,1342.8 1939.4,1304.8" fill="#0000ff"/>
<polygon points="2073.7,1355.7 2115.7,1355.7 2094.7,1317.7" fill="#0000ff"/>
<path d="M386.3,647.7 L390.2,653.6 L394.1,659.5 L398.0,665.3 L401.8,671.1 L405.7,676.9 L409.6,682.6 L413.5,688.2 L417.4,693.7 L421.3,699.1 L425.1,704.4 L429.0,709.6 L432.9,714.6 L436.8,719.5 L440.7,724.2 L444.5,728.8 L448.4,733.1 L452.3,737.3 L456.2,741.2 L460.1,744.9 L464.0,748.3 L467.8,751.5 L471.7,754.4 L475.6,757.1 L479.5,759.4 L483.4,761.5 L487.3,763.2 L491.1,764.5 L495.0,765.6 L498.9,766.3 L502.8,766.6 L506.7,766.5 L510.6,766.0 L514.4,765.1 L518.3,763.8 L522.2,762.0 L526.1,759.8 L530.0,757.2 L533.9,754.0 L537.7,750.4 L541.6,746.3 L545.5,741.7 L549.4,736.6 L553.3,731.0 L557.1,725.0 L561.0,718.7 L564.9,712.0 L568.8,705.0 L572.7,697.7 L576.6,690.2 L580.4,682.4 L584.3,674.5 L588.2,666.4 L592.1,658.3 L596.0,650.0 L599.9,641.7 L603.7,633.4 L607.6,625.1 L611.5,616.9 L615.4,608.7 L619.3,600.7 L623.2,592.9 L627.0,585.2 L630.9,577.7 L634.8,570.5 L638.7,563.6 L642.6,557.0 L646.4,550.8 L650.3,545.0 L654.2,539.6 L658.1,534.6 L662.0,530.2 L665.9,526.2 L669.7,522.8 L673.6,520.0 L677.5,517.9 L681.4,516.4 L685.3,515.6 L689.2,515.5 L693.0,516.1 L696.9,517.6 L700.8,519.9 L704.7,522.9 L708.6,526.8 L712.5,531.3 L716.3,536.6 L720.2,542.5 L724.1,549.1 L728.0,556.3 L731.9,564.0 L735.8,572.3 L739.6,581.1 L743.5,590.4 L747.4,600.1 L751.3,610.2 L755.2,620.7 L759.0,631.6 L762.9,642.8 L766.8,654.3 L770.7,666.0 L774.6,677.9 L778.5,690.1 L782.3,702.4 L786.2,714.8 L790.1,727.4 L794.0,740.0 L797.9,752.6 L801.8,765.3 L805.6,777.9 L809.5,790.5 L813.4,802.9 L817.3,815.3 L821.2,827.5 L825.1,839.5 L828.9,851.3 L832.8,862.8 L836.7,874.1 L840.6,885.0 L844.5,895.6 L848.3,905.9 L852.2,915.7 L856.1,925.1 L860.0,934.1 L863.9,942.6 L867.8,950.8 L871.6,958.5 L875.5,965.9 L879.4,972.9 L883.3,979.6 L887.2,985.9 L891.1,992.0 L894.9,997.6 L898.8,1003.0 L902.7,1008.1 L906.6,1013.0 L910.5,1017.5 L914.4,1021.8 L918.2,1025.9 L922.1,1029.8 L926.0,1033.4 L929.9,1036.8 L933.8,1040.1 L937.7,1043.1 L941.5,1046.0 L945.4,1048.8 L949.3,1051.4 L953.2,1053.8 L957.1,1056.2 L960.9,1058.5 L964.8,1060.6 L968.7,1062.7 L972.6,1064.8 L976.5,1066.8 L980.4,1068.7 L984.2,1070.6 L988.1,1072.5 L992.0,1074.4 L995.9,1076.3 L999.8,1078.2 L1003.7,1080.2 L1007.5,1082.2 L1011.4,1084.3 L1015.3,1086.4 L1019.2,1088.6 L1023.1,1090.8 L1027.0,1093.0 L1030.8,1095.3 L1034.7,1097.6 L1038.6,1099.9 L1042.5,1102.2 L1046.4,1104.6 L1050.2,1106.9 L1054.1,1109.2 L1058.0,1111.6 L1061.9,1113.9 L1065.8,1116.1 L1069.7,1118.4 L1073.5,1120.6 L1077.4,1122.8 L1081.3,1124.9 L1085.2,1126.9 L1089.1,1129.0 L1093.0,1130.9 L1096.8,1132.8 L1100.7,1134.6 L1104.6,1136.3 L1108.5,1137.9 L1112.4,1139.4 L1116.3,1140.8 L1120.1,1142.1 L1124.0,1143.3 L1127.9,1144.4 L1131.8,1145.4 L1135.7,1146.2 L1139.5,1146.9 L1143.4,1147.4 L1147.3,1147.8 L1151.2,1148.1 L1155.1,1148.2 L1159.0,1148.1 L1162.8,1147.8 L1166.7,1147.4 L1170.6,1146.8 L1174.5,1146.0 L1178.4,1145.1 L1182.3,1144.0 L1186.1,1142.8 L1190.0,1141.5 L1193.9,1140.1 L1197.8,1138.6 L1201.7,1137.0 L1205.6,1135.3 L1209.4,1133.5 L1213.3,1131.7 L1217.2,1129.8 L1221.1,1127.9 L1225.0,1126.0 L1228.9,1124.0 L1232.7,1122.1 L1236.6,1120.1 L1240.5,1118.1 L1244.4,1116.2 L1248.3,1114.3 L1252.1,1112.4 L1256.0,1110.6 L1259.9,1108.8 L1263.8,1107.1 L1267.7,1105.5 L1271.6,1104.0 L1275.4,1102.6 L1279.3,1101.2 L1283.2,1100.0 L1287.1,1099.0 L1291.0,1098.0 L1294.9,1097.2 L1298.7,1096.6 L1302.6,1096.2 L1306.5,1095.9 L1310.4,1095.8 L1314.3,1095.9 L1318.2,1096.2 L1322.0,1096.7 L1325.9,1097.5 L1329.8,1098.4 L1333.7,1099.5 L1337.6,1100.8 L1341.5,1102.3 L1345.3,1104.0 L1349.2,1105.8 L1353.1,1107.7 L1357.0,1109.8 L1360.9,1112.1 L1364.7,1114.4 L1368.6,1116.9 L1372.5,1119.5 L1376.4,1122.1 L1380.3,1124.9 L1384.2,1127.7 L1388.0,1130.6 L1391.9,1133.6 L1395.8,1136.6 L1399.7,1139.7 L1403.6,1142.8 L1407.5,1145.9 L1411.3,1149.1 L1415.2,1152.3 L1419.1,1155.4 L1423.0,1158.6 L1426.9,1161.7 L1430.8,1164.8 L1434.6,1167.9 L1438.5,1171.0 L1442.4,1174.0 L1446.3,1176.9 L1450.2,1179.8 L1454.0,1182.6 L1457.9,1185.3 L1461.8,1187.9 L1465.7,1190.4 L1469.6,1192.8 L1473.5,1195.1 L1477.3,1197.3 L1481.2,1199.3 L1485.1,1201.2 L1489.0,1203.0 L1492.9,1204.7 L1496.8,1206.3 L1500.6,1207.8 L1504.5,1209.2 L1508.4,1210.5 L1512.3,1211.7 L1516.2,1212.9 L1520.1,1213.9 L1523.9,1214.9 L1527.8,1215.8 L1531.7,1216.7 L1535.6,1217.5 L1539.5,1218.3 L1543.4,1219.0 L1547.2,1219.7 L1551.1,1220.3 L1555.0,1220.9 L1558.9,1221.4 L1562.8,1222.0 L1566.6,1222.5 L1570.5,1223.0 L1574.4,1223.5 L1578.3,1224.0 L1582.2,1224.5 L1586.1,1225.0 L1589.9,1225.5 L1593.8,1226.0 L1597.7,1226.6 L1601.6,1227.1 L1605.5,1227.7 L1609.4,1228.3 L1613.2,1229.0 L1617.1,1229.7 L1621.0,1230.4 L1624.9,1231.2 L1628.8,1232.1 L1632.7,1233.0 L1636.5,1234.0 L1640.4,1235.0 L1644.3,1236.1 L1648.2,1237.2 L1652.1,1238.4 L1655.9,1239.6 L1659.8,1240.9 L1663.7,1242.2 L1667.6,1243.5 L1671.5,1244.9 L1675.4,1246.3 L1679.2,1247.7 L1683.1,1249.2 L1687.0,1250.7 L1690.9,1252.2 L1694.8,1253.7 L1698.7,1255.2 L1702.5,1256.7 L1706.4,1258.3 L1710.3,1259.9 L1714.2,1261.4 L1718.1,1263.0 L1722.0,1264.5 L1725.8,1266.1 L1729.7,1267.6 L1733.6,1269.1 L1737.5,1270.7 L1741.4,1272.2 L1745.3,1273.6 L1749.1,1275.1 L1753.0,1276.5 L1756.9,1277.9 L1760.8,1279.3 L1764.7,1280.7 L1768.5,1282.0 L1772.4,1283.2 L1776.3,1284.5 L1780.2,1285.7 L1784.1,1286.8 L1788.0,1287.9 L1791.8,1288.9 L1795.7,1289.9 L1799.6,1290.9 L1803.5,1291.8 L1807.4,1292.7 L1811.3,1293.5 L1815.1,1294.3 L1819.0,1295.1 L1822.9,1295.8 L1826.8,1296.5 L1830.7,1297.2 L1834.6,1297.8 L1838.4,1298.4 L1842.3,1299.0 L1846.2,1299.6 L1850.1,1300.2 L1854.0,1300.7 L1857.8,1301.2 L1861.7,1301.7 L1865.6,1302.2 L1869.5,1302.7 L1873.4,1303.2 L1877.3,1303.6 L1881.1,1304.1 L1885.0,1304.6 L1888.9,1305.0 L1892.8,1305.5 L1896.7,1305.9 L1900.6,1306.4 L1904.4,1306.9 L1908.3,1307.3 L1912.2,1307.8 L1916.1,1308.3 L1920.0,1308.9 L1923.9,1309.4 L1927.7,1309.9 L1931.6,1310.5 L1935.5,1311.1 L1939.4,1311.7 L1943.4,1312.4 L1947.3,1313.0 L1951.3,1313.7 L1955.3,1314.5 L1959.3,1315.2 L1963.3,1316.0 L1967.3,1316.8 L1971.2,1317.6 L1975.2,1318.4 L1979.2,1319.3 L1983.2,1320.2 L1987.2,1321.0 L1991.2,1322.0 L1995.1,1322.9 L1999.1,1323.8 L2003.1,1324.8 L2007.1,1325.8 L2011.1,1326.8 L2015.0,1327.8 L2019.0,1328.8 L2023.0,1329.8 L2027.0,1330.9 L2031.0,1331.9 L2035.0,1333.0 L2038.9,1334.1 L2042.9,1335.1 L2046.9,1336.2 L2050.9,1337.3 L2054.9,1338.5 L2058.9,1339.6 L2062.8,1340.7 L2066.8,1341.8 L2070.8,1342.9 L2074.8,1344.1 L2078.8,1345.2 L2082.7,1346.4 L2086.7,1347.5 L2090.7,1348.7 L2094.7,1349.8" fill="none" stroke="#ff00ff" stroke-width="3.6" stroke-linejoin="round"/>
<polygon points="365.3,635.0 407.3,635.0 386.3,673.0" fill="#ff00ff"/>
<polygon points="520.6,733.6 562.6,733.6 541.6,771.6" fill="#ff00ff"/>
<polygon points="675.9,504.9 717.9,504.9 696.9,542.9" fill="#ff00ff"/>
<polygon points="831.2,903.0 873.2,903.0 852.2,941.0" fill="#ff00ff"/>
<polygon points="986.5,1069.5 1028.5,1069.5 1007.5,1107.5" fill="#ff00ff"/>
<polygon points="1141.8,1135.1 1183.8,1135.1 1162.8,1173.1" fill="#ff00ff"/>
<polygon points="1297.2,1083.5 1339.2,1083.5 1318.2,1121.5" fill="#ff00ff"/>
<polygon points="1452.5,1182.4 1494.5,1182.4 1473.5,1220.4" fill="#ff00ff"/>
<polygon points="1607.8,1219.4 1649.8,1219.4 1628.8,1257.4" fill="#ff00ff"/>
<polygon points="1763.1,1274.1 1805.1,1274.1 1784.1,1312.1" fill="#ff00ff"/>
<polygon points="1918.4,1299.0 1960.4,1299.0 1939.4,1337.0" fill="#ff00ff"/>
<polygon points="2073.7,1337.1 2115.7,1337.1 2094.7,1375.1" fill="#ff00ff"/>
<rect x="231.0" y="41.0" width="2019.0" height="1505.0" fill="none" stroke="#000" stroke-width="8"/>
<line x1="2246.3" y1="45.0" x2="2246.3" y2="1542.0" stroke="#8c8c8c" stroke-width="2.4"/>
<line x1="231.0" y1="1357.9" x2="262.0" y2="1357.9" stroke="#000" stroke-width="5.6"/>
<line x1="231.0" y1="981.6" x2="262.0" y2="981.6" stroke="#000" stroke-width="5.6"/>
<line x1="231.0" y1="605.4" x2="262.0" y2="605.4" stroke="#000" stroke-width="5.6"/>
<line x1="231.0" y1="229.1" x2="262.0" y2="229.1" stroke="#000" stroke-width="5.6"/>
<line x1="231.0" y1="1169.8" x2="248.0" y2="1169.8" stroke="#000" stroke-width="5"/>
<line x1="231.0" y1="793.5" x2="248.0" y2="793.5" stroke="#000" stroke-width="5"/>
<line x1="231.0" y1="417.2" x2="248.0" y2="417.2" stroke="#000" stroke-width="5"/>
<line x1="386.3" y1="1546.0" x2="386.3" y2="1515.0" stroke="#000" stroke-width="8"/>
<line x1="541.6" y1="1546.0" x2="541.6" y2="1515.0" stroke="#000" stroke-width="8"/>
<line x1="696.9" y1="1546.0" x2="696.9" y2="1515.0" stroke="#000" stroke-width="8"/>
<line x1="852.2" y1="1546.0" x2="852.2" y2="1515.0" stroke="#000" stroke-width="8"/>
<line x1="1007.5" y1="1546.0" x2="1007.5" y2="1515.0" stroke="#000" stroke-width="8"/>
<line x1="1162.8" y1="1546.0" x2="1162.8" y2="1515.0" stroke="#000" stroke-width="8"/>
<line x1="1318.2" y1="1546.0" x2="1318.2" y2="1515.0" stroke="#000" stroke-width="8"/>
<line x1="1473.5" y1="1546.0" x2="1473.5" y2="1515.0" stroke="#000" stroke-width="8"/>
<line x1="1628.8" y1="1546.0" x2="1628.8" y2="1515.0" stroke="#000" stroke-width="8"/>
<line x1="1784.1" y1="1546.0" x2="1784.1" y2="1515.0" stroke="#000" stroke-width="8"/>
<line x1="1939.4" y1="1546.0" x2="1939.4" y2="1515.0" stroke="#000" stroke-width="8"/>
<line x1="2094.7" y1="1546.0" x2="2094.7" y2="1515.0" stroke="#000" stroke-width="8"/>
<line x1="308.7" y1="1546.0" x2="308.7" y2="1528.5" stroke="#000" stroke-width="5.5"/>
<line x1="464.0" y1="1546.0" x2="464.0" y2="1528.5" stroke="#000" stroke-width="5.5"/>
<line x1="619.3" y1="1546.0" x2="619.3" y2="1528.5" stroke="#000" stroke-width="5.5"/>
<line x1="774.6" y1="1546.0" x2="774.6" y2="1528.5" stroke="#000" stroke-width="5.5"/>
<line x1="929.9" y1="1546.0" x2="929.9" y2="1528.5" stroke="#000" stroke-width="5.5"/>
<line x1="1085.2" y1="1546.0" x2="1085.2" y2="1528.5" stroke="#000" stroke-width="5.5"/>
<line x1="1240.5" y1="1546.0" x2="1240.5" y2="1528.5" stroke="#000" stroke-width="5.5"/>
<line x1="1395.8" y1="1546.0" x2="1395.8" y2="1528.5" stroke="#000" stroke-width="5.5"/>
<line x1="1551.1" y1="1546.0" x2="1551.1" y2="1528.5" stroke="#000" stroke-width="5.5"/>
<line x1="1706.4" y1="1546.0" x2="1706.4" y2="1528.5" stroke="#000" stroke-width="5.5"/>
<line x1="1861.7" y1="1546.0" x2="1861.7" y2="1528.5" stroke="#000" stroke-width="5.5"/>
<line x1="2017.0" y1="1546.0" x2="2017.0" y2="1528.5" stroke="#000" stroke-width="5.5"/>
<line x1="2172.3" y1="1546.0" x2="2172.3" y2="1528.5" stroke="#000" stroke-width="5.5"/>
<text x="200.2" y="1377.1" font-size="67" text-anchor="end">0</text>
<text x="200.2" y="1000.8" font-size="67" text-anchor="end">10</text>
<text x="200.2" y="624.6" font-size="67" text-anchor="end">20</text>
<text x="200.2" y="248.3" font-size="67" text-anchor="end">30</text>
<text transform="translate(409.8,1634) rotate(-30) scale(0.8,1)" font-size="66" letter-spacing="5.6" stroke="#000" stroke-width="0.4" text-anchor="end">0-0.01</text>
<text transform="translate(565.1,1634) rotate(-30) scale(0.8,1)" font-size="66" letter-spacing="5.6" stroke="#000" stroke-width="0.4" text-anchor="end">0.01-0.025</text>
<text transform="translate(720.4,1634) rotate(-30) scale(0.8,1)" font-size="66" letter-spacing="5.6" stroke="#000" stroke-width="0.4" text-anchor="end">0.025-0.10</text>
<text transform="translate(875.7,1634) rotate(-30) scale(0.8,1)" font-size="66" letter-spacing="5.6" stroke="#000" stroke-width="0.4" text-anchor="end">0.10-0.25</text>
<text transform="translate(1031.0,1634) rotate(-30) scale(0.8,1)" font-size="66" letter-spacing="5.6" stroke="#000" stroke-width="0.4" text-anchor="end">0.25-0.63</text>
<text transform="translate(1186.3,1634) rotate(-30) scale(0.8,1)" font-size="66" letter-spacing="5.6" stroke="#000" stroke-width="0.4" text-anchor="end">0.63-1.60</text>
<text transform="translate(1341.7,1634) rotate(-30) scale(0.8,1)" font-size="66" letter-spacing="5.6" stroke="#000" stroke-width="0.4" text-anchor="end">1.60-4.00</text>
<text transform="translate(1497.0,1634) rotate(-30) scale(0.8,1)" font-size="66" letter-spacing="5.6" stroke="#000" stroke-width="0.4" text-anchor="end">4.00-10.0</text>
<text transform="translate(1652.3,1634) rotate(-30) scale(0.8,1)" font-size="66" letter-spacing="5.6" stroke="#000" stroke-width="0.4" text-anchor="end">10.0-25.0</text>
<text transform="translate(1807.6,1634) rotate(-30) scale(0.8,1)" font-size="66" letter-spacing="5.6" stroke="#000" stroke-width="0.4" text-anchor="end">25.0-63.0</text>
<text transform="translate(1962.9,1634) rotate(-30) scale(0.8,1)" font-size="66" letter-spacing="5.6" stroke="#000" stroke-width="0.4" text-anchor="end">63.0-100</text>
<text transform="translate(2118.2,1634) rotate(-30) scale(0.8,1)" font-size="66" letter-spacing="5.6" stroke="#000" stroke-width="0.4" text-anchor="end">&gt;100</text>
<text x="1241" y="1841.6" font-size="78" text-anchor="middle">Pore size diameter (μm)</text>
<text transform="translate(79.8,845.6) rotate(-90)" font-size="78" text-anchor="middle">Percentage (%)</text>
<line x1="1897" y1="152" x2="2057" y2="152" stroke="#000000" stroke-width="3.5"/>
<rect x="1959.0" y="136.0" width="33" height="32" fill="#000000"/>
<text x="2071" y="177" font-size="80">S0</text>
<line x1="1897" y1="249" x2="2057" y2="249" stroke="#f00000" stroke-width="2.5"/>
<circle cx="1976.5" cy="249.0" r="17.5" fill="#f00000"/>
<text x="2071" y="274" font-size="80">S1</text>
<line x1="1897" y1="345.6" x2="2057" y2="345.6" stroke="#0000ff" stroke-width="5.5"/>
<polygon points="1954.5,358.3 1997.5,358.3 1976.0,320.3" fill="#0000ff"/>
<text x="2071" y="370.6" font-size="80">S2</text>
<line x1="1897" y1="442.4" x2="2057" y2="442.4" stroke="#ff00ff" stroke-width="3"/>
<polygon points="1954.5,429.7 1997.5,429.7 1976.0,467.7" fill="#ff00ff"/>
<text x="2071" y="467.4" font-size="80">S3</text>
</svg></body></html>
